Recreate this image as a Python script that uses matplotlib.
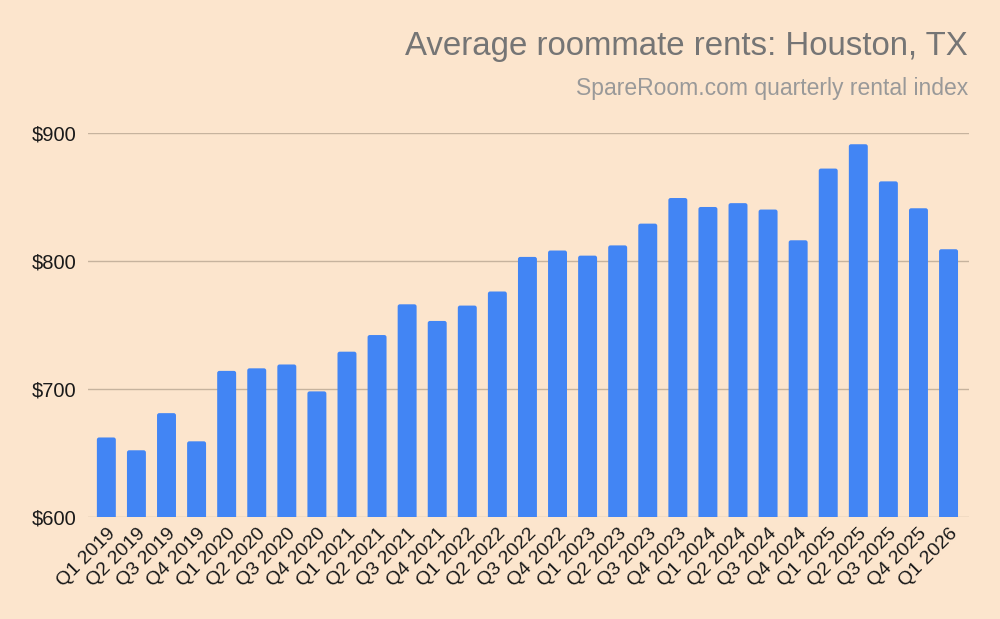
import matplotlib
matplotlib.use("Agg")
import matplotlib.pyplot as plt
from matplotlib.patches import FancyBboxPatch

quarters = ["Q1 2019", "Q2 2019", "Q3 2019", "Q4 2019",
            "Q1 2020", "Q2 2020", "Q3 2020", "Q4 2020",
            "Q1 2021", "Q2 2021", "Q3 2021", "Q4 2021",
            "Q1 2022", "Q2 2022", "Q3 2022", "Q4 2022",
            "Q1 2023", "Q2 2023", "Q3 2023", "Q4 2023",
            "Q1 2024", "Q2 2024", "Q3 2024", "Q4 2024",
            "Q1 2025", "Q2 2025", "Q3 2025", "Q4 2025",
            "Q1 2026"]
rents = [662, 652, 681, 659,
         714, 716, 719, 698,
         729, 742, 766, 753,
         765, 776, 803, 808,
         804, 812, 829, 849,
         842, 845, 840, 816,
         872, 891, 862, 841,
         809]
yticks = [600, 700, 800, 900]
ytick_labels = ["$600", "$700", "$800", "$900"]

title = "Average roommate rents: Houston, TX"
subtitle = "SpareRoom.com quarterly rental index"

bg = "#fce5cd"
bar_color = "#4285f4"
grid_color = "#c6b39e"

plt.rcParams["font.family"] = ["Liberation Sans", "DejaVu Sans"]

fig = plt.figure(figsize=(10, 6.19), dpi=100, facecolor=bg)
ax = fig.add_axes([0.0877, 0.165, 0.969 - 0.0877, 0.7856 - 0.165])
ax.set_facecolor(bg)

x = list(range(len(quarters)))
bars = ax.bar(x, [r - 600 for r in rents], bottom=600, width=0.63, color=bar_color, zorder=3)

ax.set_ylim(600, 900)
ax.set_xlim(-0.62, len(quarters) - 1 + 0.68)

# rounded top corners: replace each rectangle by a rounded box (same data geometry)
fig.canvas.draw()
bbox = ax.get_window_extent()
px_per_x = bbox.width / (ax.get_xlim()[1] - ax.get_xlim()[0])
px_per_y = bbox.height / (ax.get_ylim()[1] - ax.get_ylim()[0])
r_x = 2.2 / px_per_x
aspect = (2.2 / px_per_y) / r_x
for rect in bars:
    bx, by = rect.get_x(), rect.get_y()
    bw, bh = rect.get_width(), rect.get_height()
    extra = 10
    patch = FancyBboxPatch((bx, by - extra), bw, bh + extra,
                           boxstyle=f"round,pad=0,rounding_size={r_x}",
                           mutation_aspect=aspect,
                           facecolor=bar_color, edgecolor="none", zorder=3)
    patch.set_clip_path(ax.patch)
    ax.add_patch(patch)
    rect.set_visible(False)

ax.set_yticks(yticks)
ax.set_yticklabels(ytick_labels, fontsize=14.5, color="#1a1a1a")
ax.set_xticks(x)
ax.set_xticklabels(quarters, rotation=45, ha="right", rotation_mode="anchor",
                   fontsize=14, color="#1a1a1a")
ax.tick_params(axis="both", length=0)
ax.tick_params(axis="y", pad=8)
ax.tick_params(axis="x", pad=6)
ax.grid(axis="y", color=grid_color, linewidth=1.0, zorder=0)
for s in ax.spines.values():
    s.set_visible(False)

fig.text(0.968, 1 - 47 / 619, title, ha="right", va="center", fontsize=23.8, color="#757575")
fig.text(0.968, 1 - 89 / 619, subtitle, ha="right", va="center", fontsize=16.5, color="#999999")

fig.savefig("out.png", dpi=100, facecolor=bg)
